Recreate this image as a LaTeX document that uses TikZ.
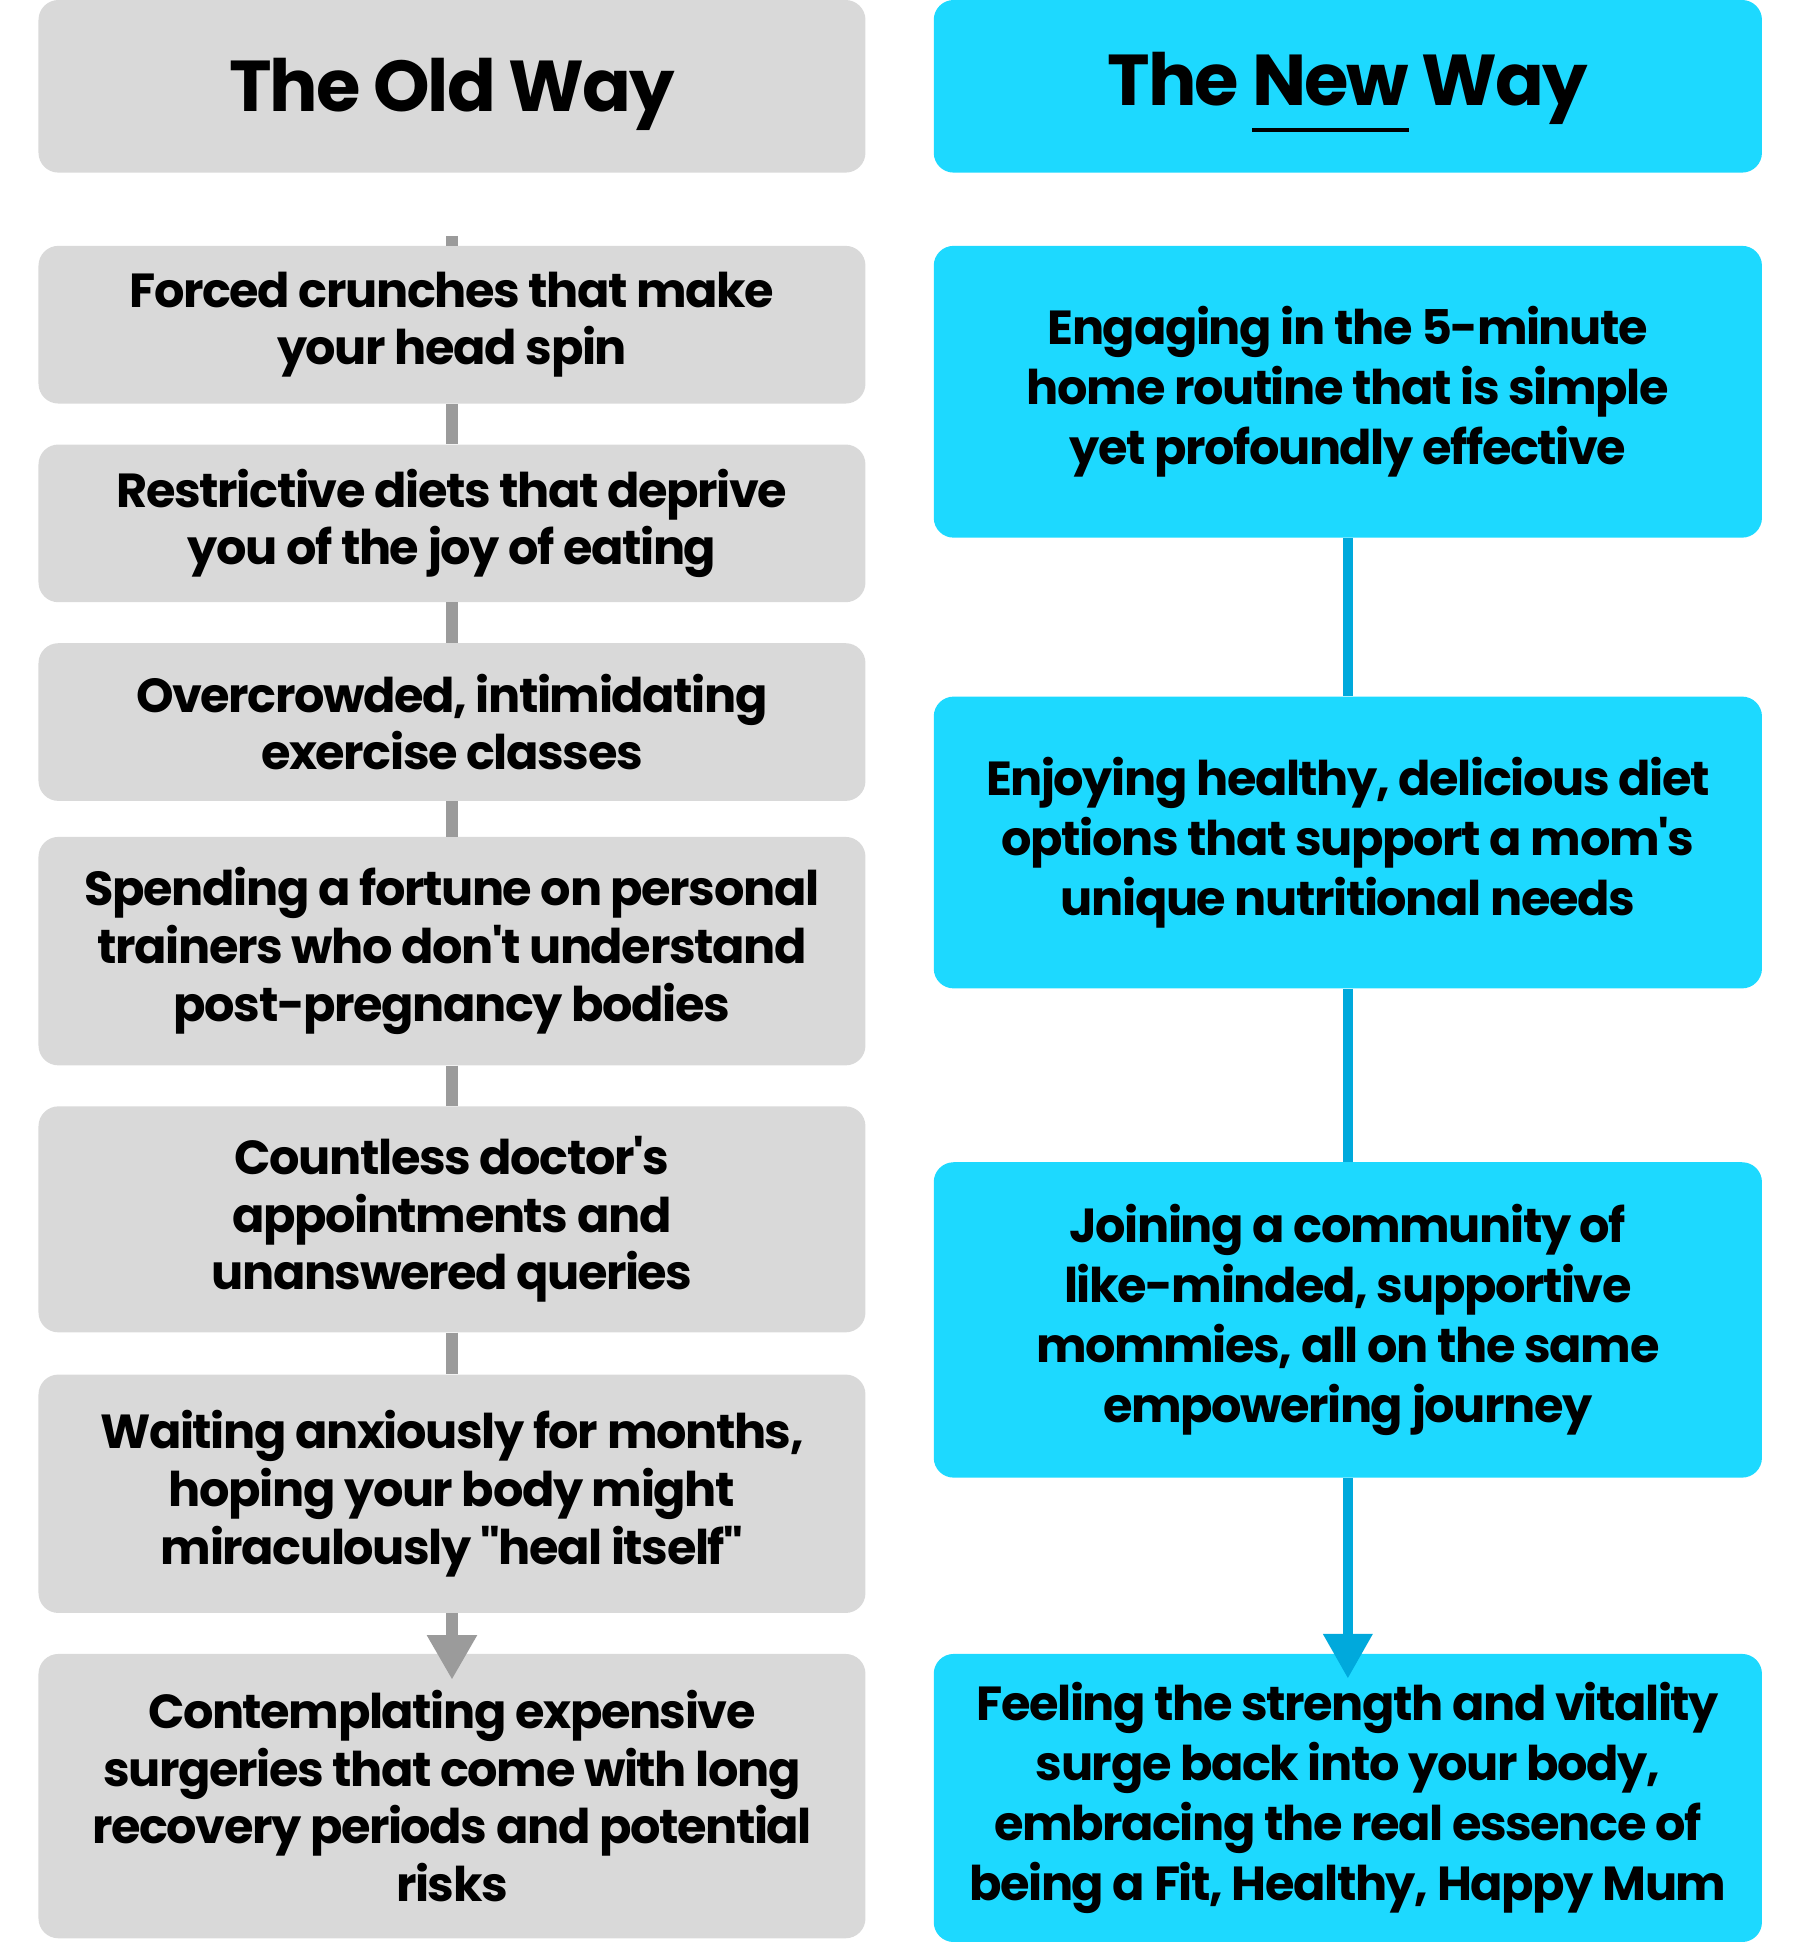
\documentclass[tikz,border=0pt]{standalone}
\usepackage{fontspec}
\setmainfont{Poppins}[Ligatures=TeXOff,LetterSpace=-3]
\usetikzlibrary{arrows.meta}

\definecolor{oldgray}{HTML}{D9D9D9}
\definecolor{oldline}{HTML}{9B9B9B}
\definecolor{newcyan}{HTML}{1DD9FF}
\definecolor{newline}{HTML}{00A9DC}

% underline set well below the word
\newcommand\lowline[1]{\setbox0\hbox{#1}\rlap{\rule[-21pt]{\wd0}{3pt}}\box0\relax}

\tikzset{
  oldbox/.style={fill=oldgray, rounded corners=16pt, minimum width=666pt,
    align=center, font=\fontsize{38.5}{46.5}\selectfont\bfseries, inner sep=0pt},
  newbox/.style={fill=newcyan, rounded corners=16pt, minimum width=667pt,
    align=center, font=\fontsize{38.5}{48.5}\selectfont\bfseries, inner sep=0pt},
  headfont/.style={font=\fontsize{58}{64}\selectfont\bfseries, text depth=0pt},
  oldlink/.style={draw=oldline, line width=10pt},
  newlink/.style={draw=newline, line width=8pt},
}

\begin{document}
\begin{tikzpicture}[x=1pt,y=-1pt]
    \useasboundingbox (0,0) rectangle (1450,1564);

    % Headers
    \node[oldbox, minimum height=139pt, headfont, text height=41pt] (oldhead) at (364,69.5) {The Old Way};
    \node[newbox, minimum height=139pt, headfont, text height=31pt] (newhead) at (1085.5,69.5) {The \lowline{New} Way};

    % Old way column
    \node[oldbox, minimum height=127pt] (o1) at (364,261.5) {Forced crunches that make\\your head spin};
    \node[oldbox, minimum height=127pt] (o2) at (364,421.5) {Restrictive diets that deprive\\you of the joy of eating};
    \node[oldbox, minimum height=127pt] (o3) at (364,581.5) {Overcrowded, intimidating\\exercise classes};
    \node[oldbox, minimum height=184pt] (o4) at (364,766) {Spending a fortune on personal\\trainers who don't understand\\post-pregnancy bodies};
    \node[oldbox, minimum height=182pt] (o5) at (364,982) {Countless doctor's\\appointments and\\unanswered queries};
    \node[oldbox, minimum height=192pt] (o6) at (364,1203) {Waiting anxiously for months,\\hoping your body might\\miraculously "heal itself"};
    \node[oldbox, minimum height=229pt] (o7) at (364,1446.5) {Contemplating expensive\\surgeries that come with long\\recovery periods and potential\\risks};
    \coordinate (otop) at (364,190);

    % New way column
    \node[newbox, minimum height=235pt] (n1) at (1085.5,315.5) {Engaging in the 5-minute\\home routine that is simple\\yet profoundly effective};
    \node[newbox, minimum height=235pt] (n2) at (1085.5,678.5) {Enjoying healthy, delicious diet\\options that support a mom's\\unique nutritional needs};
    \node[newbox, minimum height=254pt] (n3) at (1085.5,1063) {Joining a community of\\like-minded, supportive\\mommies, all on the same\\empowering journey};
    \node[newbox, minimum height=232pt] (n4) at (1085.5,1448) {Feeling the strength and vitality\\surge back into your body,\\embracing the real essence of\\being a Fit, Healthy, Happy Mum};

    % Links
    \draw[oldlink] (otop) -- (o1.north);
    \foreach \a/\b in {o1/o2,o2/o3,o3/o4,o4/o5,o5/o6}
        \draw[oldlink] (\a.south) -- (\b.north);
    \draw[oldlink, -{Triangle[width=38pt,length=36pt]}] (o6.south) -- ([yshift=-21pt]o7.north);

    \foreach \a/\b in {n1/n2,n2/n3}
        \draw[newlink] (\a.south) -- (\b.north);
    \draw[newlink, -{Triangle[width=38pt,length=36pt]}] (n3.south) -- ([yshift=-20pt]n4.north);
\end{tikzpicture}
\end{document}
